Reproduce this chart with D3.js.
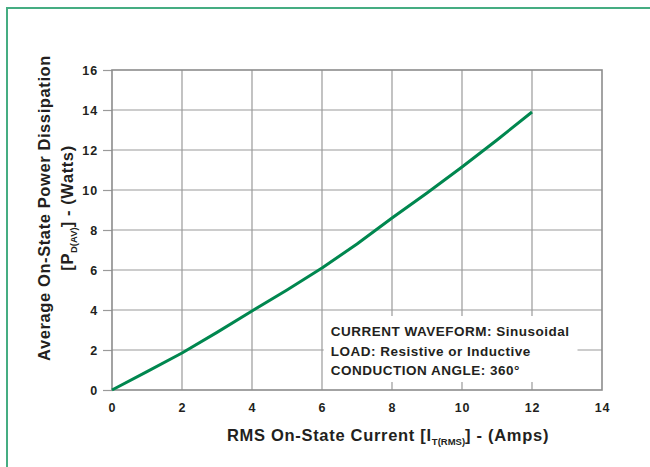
<!DOCTYPE html>
<html>
<head>
<meta charset="utf-8">
<script src="https://cdn.jsdelivr.net/npm/d3@7"></script>
<style>
  body { margin: 0; background: #fff; }
  svg text { font-family: "Liberation Sans", Arial, Helvetica, sans-serif; font-weight: bold; fill: #231f20; }
</style>
</head>
<body>
<div id="chart"></div>
<script>
// RMS current (A) vs average power dissipation (W)
const currentAmps = [0, 1, 2, 3, 4, 5, 6, 7, 8, 9, 10, 11, 12];
const powerWatts = [0, 0.92, 1.85, 2.88, 3.95, 5.0, 6.1, 7.3, 8.6, 9.85, 11.15, 12.5, 13.9];
const xTicks = [0, 2, 4, 6, 8, 10, 12, 14];
const yTicks = [0, 2, 4, 6, 8, 10, 12, 14, 16];
const noteLines = ["CURRENT WAVEFORM: Sinusoidal", "LOAD: Resistive or Inductive", "CONDUCTION ANGLE: 360\u00b0"];

const W = 650, H = 467;
const margin = { top: 70, right: 48, bottom: 77, left: 112 };
const width = W - margin.left - margin.right;
const height = H - margin.top - margin.bottom;

const root = d3.select("#chart").append("svg")
    .attr("width", W)
    .attr("height", H);

// green frame (top and left edges)
root.append("path")
    .attr("d", `M${W},8 H7 V${H}`)
    .attr("fill", "none")
    .attr("stroke", "#45ad82")
    .attr("stroke-width", 2);

const svg = root.append("g")
    .attr("transform", `translate(${margin.left},${margin.top})`);

const x = d3.scaleLinear().domain([0, 14]).range([0, width]);
const y = d3.scaleLinear().domain([0, 16]).range([height, 0]);

// grid
svg.append("g")
    .selectAll("line")
    .data(xTicks.slice(1, -1))
    .enter().append("line")
    .attr("x1", d => x(d)).attr("x2", d => x(d))
    .attr("y1", 0).attr("y2", height)
    .attr("stroke", "#9a9a9a").attr("stroke-width", 1.2);

svg.append("g")
    .selectAll("line")
    .data(yTicks.slice(1, -1))
    .enter().append("line")
    .attr("x1", 0).attr("x2", width)
    .attr("y1", d => y(d)).attr("y2", d => y(d))
    .attr("stroke", "#9a9a9a").attr("stroke-width", 1.2);

// axes
const yAxis = svg.append("g")
    .call(d3.axisLeft(y).tickValues(yTicks).tickSize(9).tickPadding(5));
const xAxis = svg.append("g")
    .attr("transform", `translate(0,${height})`)
    .call(d3.axisBottom(x).tickValues(xTicks).tickSize(0).tickPadding(13));

[yAxis, xAxis].forEach(a => {
    a.select(".domain").remove();
    a.selectAll("line").attr("stroke", "#9a9a9a").attr("stroke-width", 1.2);
    a.selectAll("text")
        .style("font-size", "12.5px")
        .style("letter-spacing", "0.9px")
        .attr("fill", "#231f20");
});

// plot border
svg.append("rect")
    .attr("width", width).attr("height", height)
    .attr("fill", "none")
    .attr("stroke", "#8c8c8c").attr("stroke-width", 1.6);

// note box (white, covers grid)
svg.append("rect")
    .attr("x", x(6.05)).attr("y", y(3.7))
    .attr("width", x(13.3) - x(6.05)).attr("height", y(0.4) - y(3.7))
    .attr("fill", "#fff");

svg.selectAll(".note")
    .data(noteLines)
    .enter().append("text")
    .attr("class", "note")
    .attr("x", x(6.25))
    .attr("y", (d, i) => y(2.7) + i * 19.5)
    .style("font-size", "13.5px")
    .style("letter-spacing", "0.5px")
    .text(d => d);

// data line
const line = d3.line()
    .x((d, i) => x(currentAmps[i]))
    .y(d => y(d));

svg.append("path")
    .datum(powerWatts)
    .attr("d", line)
    .attr("fill", "none")
    .attr("stroke", "#00874f")
    .attr("stroke-width", 3)
    .attr("stroke-linejoin", "round");

// x title
const xt = svg.append("text")
    .attr("x", 276)
    .attr("y", height + 51)
    .attr("text-anchor", "middle")
    .style("font-size", "16.5px")
    .style("letter-spacing", "0.7px");
xt.append("tspan").text("RMS On-State Current [I");
xt.append("tspan").attr("dy", 4).style("font-size", "9.5px").style("letter-spacing", "0px").text("T(RMS)");
xt.append("tspan").attr("dy", -4).text("] - (Amps)");

// y title
const yt = svg.append("g")
    .attr("transform", `translate(-62,${y(9.1)}) rotate(-90)`);
yt.append("text")
    .attr("text-anchor", "middle")
    .style("font-size", "16.5px")
    .style("letter-spacing", "0.6px")
    .text("Average On-State Power Dissipation");
const yt2 = yt.append("text")
    .attr("y", 23)
    .attr("text-anchor", "middle")
    .style("font-size", "16.5px")
    .style("letter-spacing", "0.6px");
yt2.append("tspan").text("[P");
yt2.append("tspan").attr("dy", 4).style("font-size", "9.5px").style("letter-spacing", "0px").text("D(AV)");
yt2.append("tspan").attr("dy", -4).text("] - (Watts)");
</script>
</body>
</html>
